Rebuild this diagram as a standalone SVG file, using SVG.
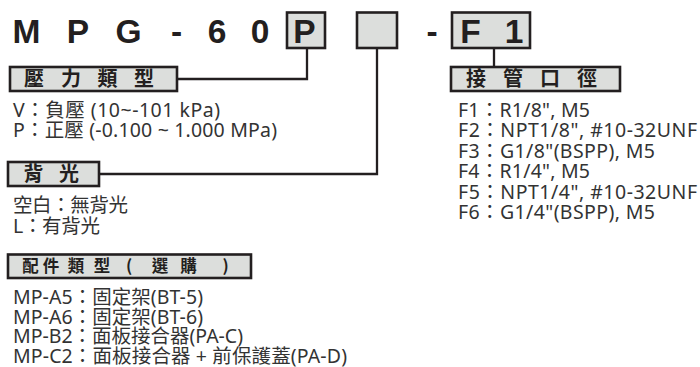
<svg xmlns="http://www.w3.org/2000/svg" width="700" height="367" viewBox="0 0 700 367">
<style>
.bg{fill:#ffffff}
.box{fill:#dcdedc;stroke:#231f20;stroke-width:2.6}
.title{font-family:"Liberation Sans",Arial,sans-serif;font-weight:bold;font-size:33.5px;fill:#231f20;text-anchor:middle}
.lab{font-family:"Noto Sans CJK TC","Noto Sans CJK SC",sans-serif;font-weight:bold;fill:#231f20;text-anchor:middle}
.txt{font-family:"Noto Sans","Noto Sans CJK TC",sans-serif;font-size:19.5px;fill:#333333}
.conn{fill:none;stroke:#231f20;stroke-width:2.3}
</style>
<rect class="bg" x="0" y="0" width="700" height="367"/>
<g id="title">
<text class="title" x="26.5" y="43">M</text>
<text class="title" x="78" y="43">P</text>
<text class="title" x="128.5" y="43">G</text>
<text class="title" x="176.5" y="43">-</text>
<text class="title" x="217" y="43">6</text>
<text class="title" x="260" y="43">0</text>
<text class="title" x="432" y="43">-</text>
</g>
<g id="box-p">
<rect class="box" x="287" y="12.5" width="38" height="35.5"/>
<text class="title" x="304.5" y="43">P</text>
</g>
<g id="box-blank">
<rect class="box" x="357" y="12.5" width="40" height="35.5"/>
</g>
<g id="box-f1">
<rect class="box" x="452" y="12.5" width="78" height="35.5"/>
<text class="title" x="470.5" y="43">F</text>
<text class="title" x="514" y="43">1</text>
</g>
<g id="connectors">
<polyline class="conn" points="177,79 307,79 307,48"/>
<polyline class="conn" points="99,174 377,174 377,48"/>
<line class="conn" x1="494" y1="48" x2="494" y2="67"/>
</g>
<g id="label-pressure">
<rect class="box" x="10" y="67" width="167" height="24"/>
<g class="lab" font-size="20">
<text x="34" y="86">壓</text><text x="71" y="86">力</text><text x="107.5" y="86">類</text><text x="144" y="86">型</text>
</g>
</g>
<g id="list-pressure" class="txt">
<text x="13" y="117" textLength="207" lengthAdjust="spacing">V：負壓 (10~-101 kPa)</text>
<text x="13" y="137" textLength="264" lengthAdjust="spacing">P：正壓 (-0.100 ~ 1.000 MPa)</text>
</g>
<g id="label-backlight">
<rect class="box" x="8" y="162" width="91" height="24"/>
<g class="lab" font-size="20">
<text x="33.5" y="181">背</text><text x="69" y="181">光</text>
</g>
</g>
<g id="list-backlight" class="txt">
<text x="13" y="212" textLength="115" lengthAdjust="spacing">空白：無背光</text>
<text x="13" y="233" textLength="87" lengthAdjust="spacing">L：有背光</text>
</g>
<g id="label-port">
<rect class="box" x="451" y="67" width="169" height="24"/>
<g class="lab" font-size="20">
<text x="476" y="86">接</text><text x="513" y="86">管</text><text x="550" y="86">口</text><text x="587" y="86">徑</text>
</g>
</g>
<g id="list-port" class="txt">
<text x="458" y="116.5" textLength="132" lengthAdjust="spacing">F1：R1/8", M5</text>
<text x="458" y="137" textLength="239" lengthAdjust="spacing">F2：NPT1/8", #10-32UNF</text>
<text x="458" y="157.5" textLength="197" lengthAdjust="spacing">F3：G1/8"(BSPP), M5</text>
<text x="458" y="178" textLength="132" lengthAdjust="spacing">F4：R1/4", M5</text>
<text x="458" y="198.5" textLength="239" lengthAdjust="spacing">F5：NPT1/4", #10-32UNF</text>
<text x="458" y="219" textLength="197" lengthAdjust="spacing">F6：G1/4"(BSPP), M5</text>
</g>
<g id="label-accessory">
<rect class="box" x="8" y="254.5" width="243" height="23.5"/>
<g class="lab" font-size="16.5">
<text x="30.5" y="272">配</text><text x="51" y="272">件</text><text x="76" y="272">類</text><text x="102" y="272">型</text><text x="129" y="272">(</text><text x="160" y="272">選</text><text x="188.5" y="272">購</text><text x="225.5" y="272">)</text>
</g>
</g>
<g id="list-accessory" class="txt">
<text x="13" y="304" textLength="190" lengthAdjust="spacing">MP-A5：固定架(BT-5)</text>
<text x="13" y="323.5" textLength="190" lengthAdjust="spacing">MP-A6：固定架(BT-6)</text>
<text x="13" y="343" textLength="230" lengthAdjust="spacing">MP-B2：面板接合器(PA-C)</text>
<text x="13" y="362.5" textLength="334" lengthAdjust="spacing">MP-C2：面板接合器 + 前保護蓋(PA-D)</text>
</g>
</svg>
